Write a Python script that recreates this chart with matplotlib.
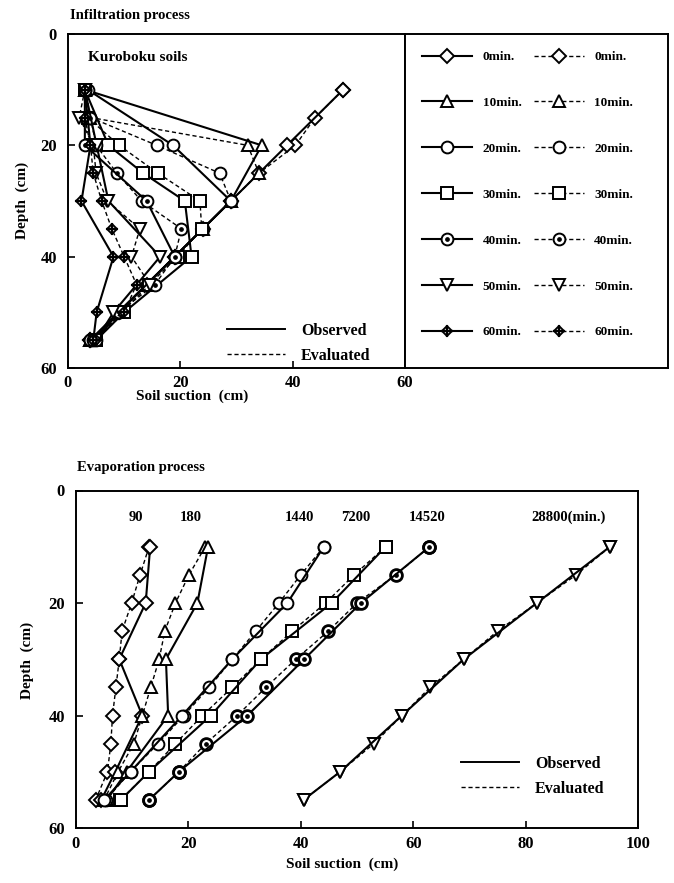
import matplotlib
matplotlib.use('Agg')
import matplotlib.pyplot as plt
from matplotlib.lines import Line2D
from matplotlib.legend_handler import HandlerTuple

plt.rcParams['font.family'] = ['Liberation Serif', 'DejaVu Serif']
plt.rcParams['font.weight'] = 'bold'

# ---- infiltration (Kuroboku soils): soil suction (cm) vs depth (cm)
depth_eval = [10, 15, 20, 25, 30, 35, 40, 45, 50, 55]
depth_obs = [10, 20, 30, 40, 50, 55]
depth_obs30 = [10, 20, 25, 30, 40, 50, 55]

inf_labels = ['0min.', '10min.', '20min.', '30min.', '40min.', '50min.', '60min.']

t0_obs = [49, 39, 29, 19, 9, 4]
t0_eval = [49, 44, 40.5, 34, 29, 24, 19, 14, 9, 4]
t10_obs = [3, 34.5, 29, 19, 9, 4]
t10_eval = [3, 4, 32, 34, 29, 24, 19, 14, 9, 4]
t20_obs = [3.5, 18.7, 29, 19, 9, 4]
t20_eval = [3, 4, 15.8, 27, 29, 24, 19, 14, 9, 4]
t30_obs = [3, 7.2, 13.4, 20.8, 22, 10, 5]
t30_eval = [3, 3.5, 9.1, 16, 23.5, 23.8, 19.5, 14.5, 9.5, 5]
t40_obs = [3, 3, 14, 19, 9, 5]
t40_eval = [3, 4, 5, 8.7, 13.1, 20.2, 19, 15.5, 9, 4.5]
t50_obs = [3, 5.1, 7.2, 16.4, 8.1, 5]
t50_eval = [3, 2, 4.5, 5, 7, 12.8, 11.3, 14.6, 9.5, 5]
t60_obs = [3, 4, 2.4, 8.1, 5.1, 4.5]
t60_eval = [3, 3, 4, 4.5, 6, 7.8, 10, 12.2, 10, 5]

# ---- evaporation: elapsed minutes and profiles
evap_labels = ['90', '180', '1440', '7200', '14520', '28800(min.)']
evap_label_x = [10.7, 20.5, 39.7, 49.8, 62.5, 87.7]

e90_obs = [13.2, 12.4, 7.7, 11.8, 7, 4.5]
e90_eval = [13, 11.4, 9.9, 8.2, 7.7, 7.1, 6.5, 6.2, 5.6, 3.5]
e180_obs = [23.5, 21.6, 16, 16.4, 9, 5.5]
e180_eval = [23, 20.1, 17.7, 15.8, 14.8, 13.3, 11.8, 10.3, 7.5, 5]
e1440_obs = [44.1, 37.6, 27.8, 18.9, 9.7, 5]
e1440_eval = [44.1, 40, 36.1, 32, 27.8, 23.7, 19.2, 14.6, 9.7, 5.3]
e7200_obs = [55.1, 45.5, 32.9, 24, 13, 8]
e7200_eval = [55.1, 49.5, 44.4, 38.5, 32.9, 27.8, 22.5, 17.7, 13, 7.9]
e14520_obs = [62.9, 50.7, 40.6, 30.5, 18.3, 13]
e14520_eval = [62.9, 56.9, 50, 44.9, 39.1, 33.8, 28.7, 23.1, 18.3, 13]
e28800_obs = [95, 82, 69, 58, 47, 40.5]
e28800_eval = [95, 89, 82, 75, 69, 63, 58, 53, 47, 40.5]

DASH = (0, (3, 2))


def draw(ax, x, y, kind, dashed=False, ms=8, bold=False):
    ls = DASH if dashed else '-'
    lw = 1.0 if dashed else 1.5
    mew = 2.0 if bold else 1.4
    if kind == 'star':
        h1, = ax.plot(x, y, ls=ls, lw=lw, color='k', marker='D', ms=5,
                      mfc='white', mec='k', mew=mew)
        h2, = ax.plot(x, y, ls='none', marker='+', ms=9, mec='k', mew=1.6)
        return (h1, h2)
    h1, = ax.plot(x, y, ls=ls, lw=lw, color='k', marker=kind, ms=ms,
                  mfc='white', mec='k', mew=mew)
    return h1


def draw_dot(ax, x, y, dashed=False, ms=8, bold=False):
    h1 = draw(ax, x, y, 'o', dashed, ms, bold)
    h2, = ax.plot(x, y, ls='none', marker='o', ms=2.4, color='k')
    return (h1, h2)


fig = plt.figure(figsize=(6.74, 8.83), dpi=100)

# ---------------- infiltration panel
ax1 = fig.add_axes([68 / 674, 1 - 368 / 883, 337 / 674, 334 / 883])
lax = fig.add_axes([405 / 674, 1 - 368 / 883, 263 / 674, 334 / 883])

obs_sets = [(t0_obs, depth_obs, 'D'), (t10_obs, depth_obs, '^'),
            (t20_obs, depth_obs, 'o'), (t30_obs, depth_obs30, 's'),
            (t40_obs, depth_obs, 'dot'), (t50_obs, depth_obs, 'v'),
            (t60_obs, depth_obs, 'star')]
eval_sets = [t0_eval, t10_eval, t20_eval, t30_eval, t40_eval, t50_eval, t60_eval]

obs_handles, eval_handles = [], []
for (xs, ds, mk), xe in zip(obs_sets, eval_sets):
    size = 7 if mk == 'D' else 8.5
    if mk == 'dot':
        he = draw_dot(ax1, xe, depth_eval, True, size)
        ho = draw_dot(ax1, xs, ds, False, size)
    else:
        he = draw(ax1, xe, depth_eval, mk, True, size)
        ho = draw(ax1, xs, ds, mk, False, size)
    obs_handles.append(ho)
    eval_handles.append(he)

ax1.set_xlim(0, 60)
ax1.set_ylim(60, 0)
ax1.set_xticks([0, 20, 40, 60])
ax1.set_yticks([0, 20, 40, 60])
ax1.tick_params(direction='in', length=5, width=1.2, labelsize=12)
ax1.tick_params(axis='x', pad=5)
ax1.tick_params(axis='y', pad=8)
for s in ax1.spines.values():
    s.set_linewidth(1.4)
ax1.text(0.06, 0.93, 'Kuroboku soils', transform=ax1.transAxes, fontsize=11,
         ha='left', va='center')

oe = [Line2D([], [], color='k', lw=1.4), Line2D([], [], color='k', lw=1.0, ls=DASH)]
ax1.legend(oe, ['Observed', 'Evaluated'], loc='lower left',
           bbox_to_anchor=(0.43, -0.03), frameon=False, fontsize=11.5,
           handlelength=3.6, handletextpad=1.0, labelspacing=0.55)

# legend box with the time steps
lax.set_xticks([])
lax.set_yticks([])
for s in lax.spines.values():
    s.set_linewidth(1.4)
hmap = {tuple: HandlerTuple(ndivide=1, pad=0)}
lax.legend(obs_handles + eval_handles, inf_labels + inf_labels, ncol=2,
           loc='upper left', bbox_to_anchor=(0.02, 0.985), frameon=False,
           fontsize=9.5, handlelength=3.8, handletextpad=0.8, columnspacing=0.9,
           labelspacing=2.55, handler_map=hmap)

fig.text(70 / 674, 1 - 15 / 883, 'Infiltration process', fontsize=10.5,
         ha='left', va='center')
fig.text(192 / 674, 1 - 396 / 883, 'Soil suction  (cm)', fontsize=11,
         ha='center', va='center')
fig.text(22 / 674, 1 - 200 / 883, 'Depth  (cm)', fontsize=11, rotation=90,
         ha='center', va='center')

# ---------------- evaporation panel
ax2 = fig.add_axes([76 / 674, 1 - 828 / 883, 562 / 674, 337.5 / 883])

evap_sets = [(e90_obs, e90_eval, 'D'), (e180_obs, e180_eval, '^'),
             (e1440_obs, e1440_eval, 'o'), (e7200_obs, e7200_eval, 's'),
             (e14520_obs, e14520_eval, 'dot'), (e28800_obs, e28800_eval, 'v')]
for xo, xe, mk in evap_sets:
    size = 7 if mk == 'D' else 8.5
    if mk == 'dot':
        draw_dot(ax2, xe, depth_eval, True, size, bold=True)
        draw_dot(ax2, xo, depth_obs, False, size, bold=True)
    else:
        draw(ax2, xe, depth_eval, mk, True, size)
        draw(ax2, xo, depth_obs, mk, False, size)

for lab, lx in zip(evap_labels, evap_label_x):
    ax2.text(lx, 4.8, lab, fontsize=10.5, ha='center', va='center')

ax2.set_xlim(0, 100)
ax2.set_ylim(60, 0)
ax2.set_xticks([0, 20, 40, 60, 80, 100])
ax2.set_yticks([0, 20, 40, 60])
ax2.tick_params(direction='in', length=5, width=1.2, labelsize=12)
ax2.tick_params(axis='x', pad=6)
ax2.tick_params(axis='y', pad=8)
for s in ax2.spines.values():
    s.set_linewidth(1.4)
ax2.legend(oe, ['Observed', 'Evaluated'], loc='lower left',
           bbox_to_anchor=(0.66, 0.05), frameon=False, fontsize=11.5,
           handlelength=3.6, handletextpad=1.0, labelspacing=0.55)

fig.text(77 / 674, 1 - 467 / 883, 'Evaporation process', fontsize=10.5,
         ha='left', va='center')
fig.text(342 / 674, 1 - 864 / 883, 'Soil suction  (cm)', fontsize=11,
         ha='center', va='center')
fig.text(27 / 674, 1 - 660 / 883, 'Depth  (cm)', fontsize=11, rotation=90,
         ha='center', va='center')

fig.savefig('out.png', dpi=100)
